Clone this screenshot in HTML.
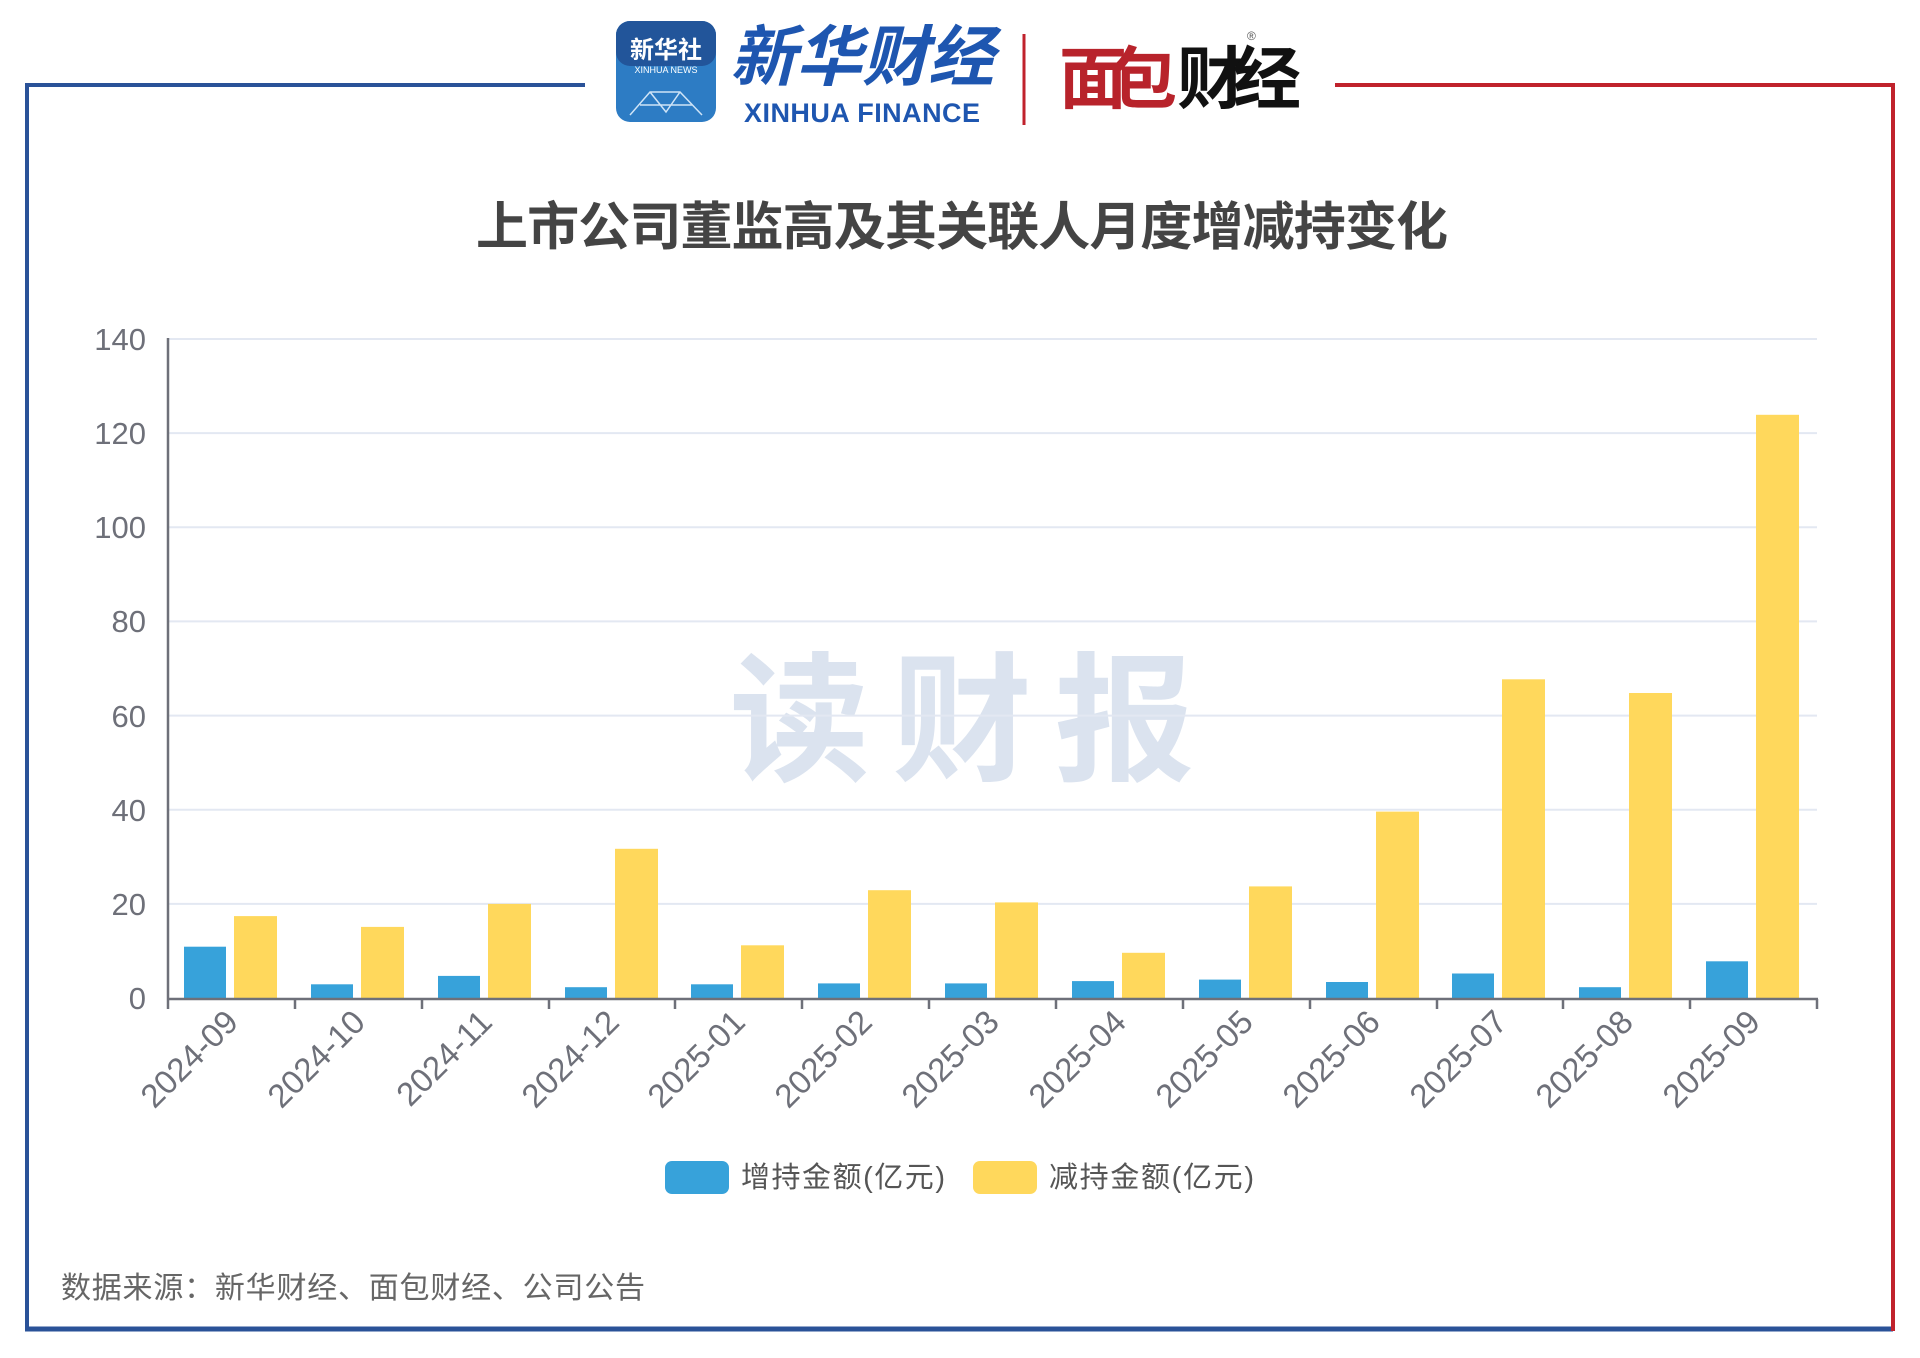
<!DOCTYPE html>
<html><head><meta charset="utf-8"><style>
html,body{margin:0;padding:0;background:#fff;}
svg{display:block;}
text{font-family:"Liberation Sans","Noto Sans CJK SC",sans-serif;}
</style></head><body>
<svg width="1920" height="1358" viewBox="0 0 1920 1358" xmlns="http://www.w3.org/2000/svg">
<line x1="27" y1="85" x2="585" y2="85" stroke="#2a5298" stroke-width="4"/>
<line x1="27" y1="83" x2="27" y2="1331" stroke="#2a5298" stroke-width="4"/>
<line x1="25" y1="1329" x2="1893" y2="1329" stroke="#2a5298" stroke-width="5"/>
<line x1="1335" y1="85" x2="1895" y2="85" stroke="#c0222c" stroke-width="4"/>
<line x1="1893" y1="83" x2="1893" y2="1331" stroke="#c0222c" stroke-width="4"/>
<rect x="616" y="21" width="100" height="101" rx="14" fill="#2d7cc4"/>
<rect x="616" y="21" width="100" height="45" rx="14" fill="#22559a"/>
<text x="666" y="58" font-size="24" fill="#fff" text-anchor="middle" font-weight="bold">新华社</text>
<text x="666" y="73" font-size="9" fill="#fff" text-anchor="middle">XINHUA NEWS</text>
<g stroke="#cfe4f7" stroke-width="1.5" fill="none"><path d="M630 115 L650 92 L680 92 L702 115 M650 92 L666 112 L680 92 M640 105 L692 105"/></g>
<text x="862" y="80" font-size="66" fill="#1e56b0" text-anchor="middle" font-style="italic" font-weight="bold" font-family="'Noto Serif CJK SC',serif">新华财经</text>
<text x="862" y="122" font-size="27" fill="#1e56b0" text-anchor="middle" font-family="'Liberation Serif',serif" font-weight="bold" textLength="236">XINHUA FINANCE</text>
<line x1="1024" y1="34" x2="1024" y2="125" stroke="#c0222c" stroke-width="3"/>
<text x="1059" y="103" font-size="68" fill="#b8232b" font-weight="bold" textLength="118">面包</text>
<text x="1177" y="103" font-size="68" fill="#111" font-weight="bold" textLength="124">财经</text>
<text x="1247" y="40" font-size="12" fill="#555">®</text>
<text x="962" y="245" font-size="52" fill="#444" font-weight="bold" text-anchor="middle" textLength="972">上市公司董监高及其关联人月度增减持变化</text>
<text x="962" y="770" font-size="140" fill="#dbe3ef" font-weight="bold" text-anchor="middle" textLength="465">读财报</text>
<g stroke="#e3e8f2" stroke-width="2">
<line x1="168" y1="903.9" x2="1817" y2="903.9"/>
<line x1="168" y1="809.7" x2="1817" y2="809.7"/>
<line x1="168" y1="715.6" x2="1817" y2="715.6"/>
<line x1="168" y1="621.4" x2="1817" y2="621.4"/>
<line x1="168" y1="527.3" x2="1817" y2="527.3"/>
<line x1="168" y1="433.1" x2="1817" y2="433.1"/>
<line x1="168" y1="339" x2="1817" y2="339"/>
</g>
<g font-size="31" fill="#6e7079" text-anchor="end">
<text x="146" y="1009">0</text><text x="146" y="915">20</text><text x="146" y="821">40</text>
<text x="146" y="727">60</text><text x="146" y="632">80</text><text x="146" y="538">100</text>
<text x="146" y="444">120</text><text x="146" y="350">140</text>
</g>
<g fill="#37a2da">
<rect x="184" y="946.7" width="42" height="51.3"/>
<rect x="311" y="984.3" width="42" height="13.7"/>
<rect x="438" y="975.9" width="42" height="22.1"/>
<rect x="565" y="987.2" width="42" height="10.8"/>
<rect x="691" y="984.3" width="42" height="13.7"/>
<rect x="818" y="983.4" width="42" height="14.6"/>
<rect x="945" y="983.4" width="42" height="14.6"/>
<rect x="1072" y="981.1" width="42" height="16.9"/>
<rect x="1199" y="979.6" width="42" height="18.4"/>
<rect x="1326" y="982" width="42" height="16"/>
<rect x="1452" y="973.5" width="42" height="24.5"/>
<rect x="1579" y="987.2" width="42" height="10.8"/>
<rect x="1706" y="961.3" width="42" height="36.7"/>
</g>
<g fill="#ffd85c">
<rect x="234" y="916.1" width="43" height="81.9"/>
<rect x="361" y="926.9" width="43" height="71.1"/>
<rect x="488" y="903.9" width="43" height="94.1"/>
<rect x="615" y="848.8" width="43" height="149.2"/>
<rect x="741" y="945.3" width="43" height="52.7"/>
<rect x="868" y="890.2" width="43" height="107.8"/>
<rect x="995" y="902.4" width="43" height="95.6"/>
<rect x="1122" y="952.8" width="43" height="45.2"/>
<rect x="1249" y="886.4" width="43" height="111.6"/>
<rect x="1376" y="811.6" width="43" height="186.4"/>
<rect x="1502" y="679.3" width="43" height="318.7"/>
<rect x="1629" y="693" width="43" height="305"/>
<rect x="1756" y="414.8" width="43" height="583.2"/>
</g>
<g stroke="#6e7079" stroke-width="2.5">
<line x1="168" y1="338" x2="168" y2="999"/>
<line x1="168" y1="999" x2="1818" y2="999"/>
<line x1="168" y1="999" x2="168" y2="1009"/><line x1="295" y1="999" x2="295" y2="1009"/>
<line x1="422" y1="999" x2="422" y2="1009"/><line x1="549" y1="999" x2="549" y2="1009"/>
<line x1="675" y1="999" x2="675" y2="1009"/><line x1="802" y1="999" x2="802" y2="1009"/>
<line x1="929" y1="999" x2="929" y2="1009"/><line x1="1056" y1="999" x2="1056" y2="1009"/>
<line x1="1183" y1="999" x2="1183" y2="1009"/><line x1="1310" y1="999" x2="1310" y2="1009"/>
<line x1="1437" y1="999" x2="1437" y2="1009"/><line x1="1563" y1="999" x2="1563" y2="1009"/>
<line x1="1690" y1="999" x2="1690" y2="1009"/><line x1="1817" y1="999" x2="1817" y2="1009"/>
</g>
<g font-size="33" fill="#6e7079" text-anchor="end">
<text transform="translate(240,1024) rotate(-45)">2024-09</text>
<text transform="translate(367,1024) rotate(-45)">2024-10</text>
<text transform="translate(494,1024) rotate(-45)">2024-11</text>
<text transform="translate(621,1024) rotate(-45)">2024-12</text>
<text transform="translate(747,1024) rotate(-45)">2025-01</text>
<text transform="translate(874,1024) rotate(-45)">2025-02</text>
<text transform="translate(1001,1024) rotate(-45)">2025-03</text>
<text transform="translate(1128,1024) rotate(-45)">2025-04</text>
<text transform="translate(1255,1024) rotate(-45)">2025-05</text>
<text transform="translate(1382,1024) rotate(-45)">2025-06</text>
<text transform="translate(1509,1024) rotate(-45)">2025-07</text>
<text transform="translate(1635,1024) rotate(-45)">2025-08</text>
<text transform="translate(1762,1024) rotate(-45)">2025-09</text>
</g>
<rect x="665" y="1161" width="64" height="33" rx="7" fill="#37a2da"/>
<text x="741" y="1187" font-size="29" fill="#555" textLength="204">增持金额(亿元)</text>
<rect x="973" y="1161" width="64" height="33" rx="7" fill="#ffd85c"/>
<text x="1049" y="1187" font-size="29" fill="#555" textLength="205">减持金额(亿元)</text>
<text x="61" y="1298" font-size="30" fill="#666" textLength="584">数据来源：新华财经、面包财经、公司公告</text>
</svg>
</body></html>
